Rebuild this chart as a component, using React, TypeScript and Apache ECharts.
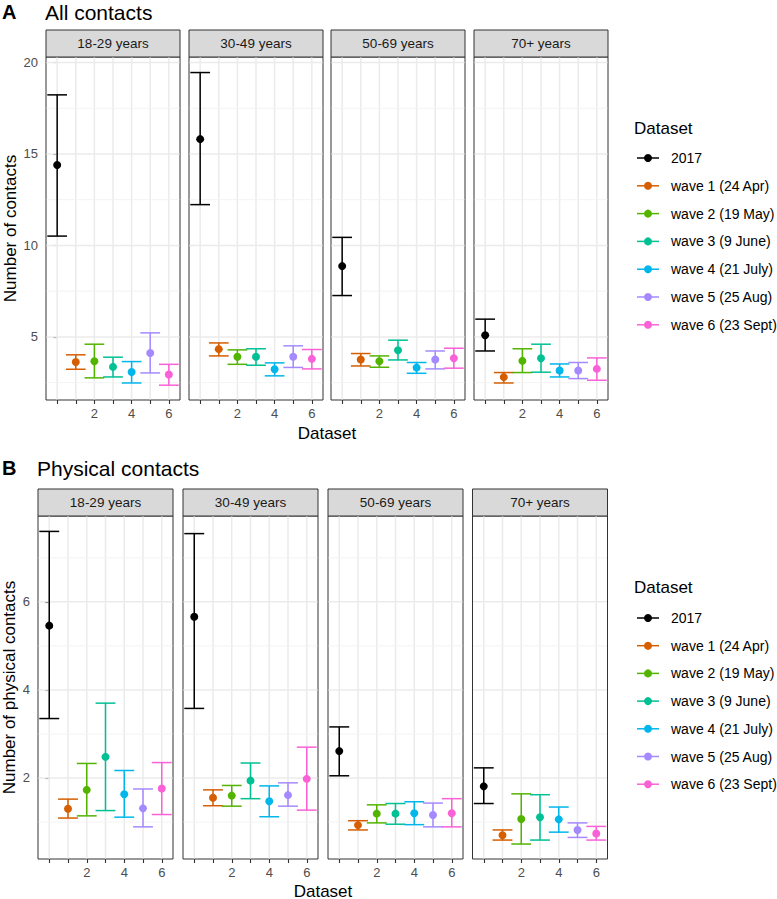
import React, { useEffect, useRef } from "react";
import * as echarts from "echarts";

const FONT = '"Liberation Sans", Arial, Helvetica, sans-serif';

const ageGroups = ["18-29 years", "30-49 years", "50-69 years", "70+ years"];
const datasets = [
  "2017",
  "wave 1 (24 Apr)",
  "wave 2 (19 May)",
  "wave 3 (9 June)",
  "wave 4 (21 July)",
  "wave 5 (25 Aug)",
  "wave 6 (23 Sept)",
];
const datasetX = [0, 1, 2, 3, 4, 5, 6];
const colors = ["#000000", "#D55E00", "#53B400", "#00C094", "#00B6EB", "#A58AFF", "#FB61D7"];

// Panel A: all contacts (rows = age groups, columns = datasets)
const allMean = [
  [14.4, 3.63, 3.67, 3.36, 3.08, 4.12, 2.94],
  [15.81, 4.33, 3.91, 3.91, 3.23, 3.91, 3.8],
  [8.87, 3.76, 3.67, 4.27, 3.32, 3.76, 3.83],
  [5.09, 2.8, 3.69, 3.83, 3.16, 3.16, 3.25],
];
const allLower = [
  [10.51, 3.23, 2.76, 2.81, 2.48, 3.03, 2.36],
  [12.23, 3.96, 3.5, 3.45, 2.87, 3.33, 3.25],
  [7.26, 3.41, 3.34, 3.74, 3.01, 3.25, 3.29],
  [4.23, 2.48, 3.05, 3.07, 2.81, 2.72, 2.63],
];
const allUpper = [
  [18.23, 4.02, 4.6, 3.89, 3.65, 5.22, 3.5],
  [19.45, 4.67, 4.29, 4.35, 3.58, 4.51, 4.31],
  [10.44, 4.09, 3.96, 4.82, 3.6, 4.23, 4.38],
  [5.97, 3.05, 4.35, 4.6, 3.52, 3.6, 3.85],
];

// Panel B: physical contacts
const physMean = [
  [5.46, 1.3, 1.73, 2.48, 1.63, 1.31, 1.76],
  [5.66, 1.55, 1.6, 1.94, 1.47, 1.61, 1.98],
  [2.61, 0.93, 1.19, 1.19, 1.2, 1.16, 1.2],
  [1.81, 0.7, 1.07, 1.11, 1.06, 0.82, 0.74],
];
const physLower = [
  [3.35, 1.09, 1.14, 1.26, 1.11, 0.89, 1.17],
  [3.58, 1.37, 1.36, 1.53, 1.12, 1.36, 1.27],
  [2.05, 0.82, 0.98, 0.95, 0.94, 0.89, 0.89],
  [1.42, 0.59, 0.5, 0.59, 0.77, 0.65, 0.59],
];
const physUpper = [
  [7.6, 1.52, 2.33, 3.7, 2.17, 1.75, 2.35],
  [7.55, 1.73, 1.83, 2.34, 1.82, 1.89, 2.7],
  [3.16, 1.03, 1.39, 1.42, 1.46, 1.43, 1.53],
  [2.23, 0.82, 1.64, 1.62, 1.34, 0.98, 0.9],
];

const xTicks = [0, 1, 2, 3, 4, 5, 6];
const xTickLabels = [2, 4, 6];
const allYTicks = [5, 10, 15, 20];
const allYMinor = [2.5, 7.5, 12.5, 17.5];
const physYTicks = [2, 4, 6];
const physYMinor = [1, 3, 5, 7];

const xRange = [-0.6, 6.6];
const allYRange = [1.55, 20.3];
const physYRange = [0.16, 7.95];
const capHalfWidth = 0.53;

// layout
const gridLeftsA = [46, 189, 331, 474];
const gridLeftsB = [38, 183, 328, 472.5];
const gridWidthA = 134;
const gridWidthB = 135;
const gridTopA = 57;
const gridTopB = 516;
const gridHeight = 343;
const stripHeight = 27;

const renderGridLines = (params: any, api: any) => {
  const kind = api.value(0);
  const v = api.value(1);
  const cs = params.coordSys;
  if (kind === 0) {
    const px = api.coord([v, 1])[0];
    return {
      type: "line",
      shape: { x1: px, y1: cs.y + 0.5, x2: px, y2: cs.y + cs.height - 0.5 },
      style: { stroke: "#EBEBEB", lineWidth: 1.5 },
    };
  }
  const py = api.coord([0, v])[1];
  return {
    type: "line",
    shape: { x1: cs.x + 0.5, y1: py, x2: cs.x + cs.width - 0.5, y2: py },
    style: { stroke: kind === 1 ? "#EBEBEB" : "#F2F2F2", lineWidth: kind === 1 ? 1.5 : 0.9 },
  };
};

const renderErrorBar = (params: any, api: any) => {
  const x = api.value(0);
  const m = api.value(1);
  const lo = api.value(2);
  const hi = api.value(3);
  const pM = api.coord([x, m]);
  const pLo = api.coord([x, lo]);
  const pHi = api.coord([x, hi]);
  const half = api.size([capHalfWidth, 0])[0];
  const color = colors[params.dataIndex];
  const ls = { stroke: color, lineWidth: 1.5 };
  return {
    type: "group",
    children: [
      { type: "line", shape: { x1: pLo[0], y1: pLo[1], x2: pHi[0], y2: pHi[1] }, style: ls },
      { type: "line", shape: { x1: pHi[0] - half, y1: pHi[1], x2: pHi[0] + half, y2: pHi[1] }, style: ls },
      { type: "line", shape: { x1: pLo[0] - half, y1: pLo[1], x2: pLo[0] + half, y2: pLo[1] }, style: ls },
      { type: "circle", shape: { cx: pM[0], cy: pM[1], r: 4 }, style: { fill: color } },
    ],
  };
};

function buildOption() {
  const grids: any[] = [];
  const xAxes: any[] = [];
  const yAxes: any[] = [];
  const series: any[] = [];
  const graphics: any[] = [];

  const sections = [
    {
      lefts: gridLeftsA, width: gridWidthA, top: gridTopA, yRange: allYRange,
      yTicks: allYTicks, yMinor: allYMinor, mean: allMean, lower: allLower, upper: allUpper,
      title: "All contacts", letter: "A", titleY: 12, yTitle: "Number of contacts", yTitleX: 10,
      xTitleX: 327, xTitleY: 433, legendTitleY: 128, legendStart: 158, legendStep: 27.8,
    },
    {
      lefts: gridLeftsB, width: gridWidthB, top: gridTopB, yRange: physYRange,
      yTicks: physYTicks, yMinor: physYMinor, mean: physMean, lower: physLower, upper: physUpper,
      title: "Physical contacts", letter: "B", titleY: 468, yTitle: "Number of physical contacts", yTitleX: 9,
      xTitleX: 323, xTitleY: 891, legendTitleY: 587, legendStart: 618, legendStep: 27.7,
    },
  ];

  sections.forEach((sec) => {
    ageGroups.forEach((age, p) => {
      const g = grids.length;
      grids.push({
        left: sec.lefts[p], top: sec.top, width: sec.width, height: gridHeight,
        show: true, borderColor: "#333333", borderWidth: 1, backgroundColor: "#FFFFFF",
      });
      xAxes.push({
        gridIndex: g, type: "value", min: xRange[0], max: xRange[1],
        axisLine: { show: false }, splitLine: { show: false },
        axisTick: { show: true, customValues: xTicks, length: 4, lineStyle: { color: "#333333", width: 1.1 } },
        axisLabel: {
          show: true, customValues: xTickLabels, color: "#4D4D4D", fontSize: 13, margin: 7, fontFamily: FONT,
          formatter: (v: number) => (xTickLabels.indexOf(v) >= 0 ? String(v) : ""),
        },
      });
      yAxes.push({
        gridIndex: g, type: "value", min: sec.yRange[0], max: sec.yRange[1],
        axisLine: { show: false }, splitLine: { show: false },
        axisTick: { show: p === 0, customValues: sec.yTicks, length: 4, lineStyle: { color: "#333333", width: 1.1 } },
        axisLabel: {
          show: p === 0, customValues: sec.yTicks, color: "#4D4D4D", fontSize: 13, margin: 8, fontFamily: FONT,
          formatter: (v: number) => (sec.yTicks.indexOf(v) >= 0 ? String(v) : ""),
        },
      });
      const gridData: number[][] = [];
      xTicks.forEach((v) => gridData.push([0, v]));
      sec.yMinor.forEach((v) => gridData.push([2, v]));
      sec.yTicks.forEach((v) => gridData.push([1, v]));
      series.push({
        type: "custom", xAxisIndex: g, yAxisIndex: g, z: 1, silent: true,
        renderItem: renderGridLines, data: gridData,
      });
      series.push({
        type: "custom", xAxisIndex: g, yAxisIndex: g, z: 3, silent: true,
        renderItem: renderErrorBar,
        encode: { x: 0, y: [1, 2, 3] },
        data: datasetX.map((x, i) => [x, sec.mean[p][i], sec.lower[p][i], sec.upper[p][i]]),
      });
      // strip
      graphics.push({
        type: "rect",
        shape: { x: sec.lefts[p], y: sec.top - stripHeight, width: sec.width, height: stripHeight },
        style: { fill: "#D9D9D9", stroke: "#333333", lineWidth: 1 },
      });
      graphics.push({
        type: "text",
        x: sec.lefts[p] + sec.width / 2, y: sec.top - stripHeight / 2,
        style: { text: age, fill: "#1A1A1A", fontSize: 13.5, fontFamily: FONT, align: "center", verticalAlign: "middle" },
      });
    });
    // titles
    graphics.push({
      type: "text", x: 2, y: sec.titleY,
      style: { text: sec.letter, fill: "#000", fontSize: 20, fontWeight: "bold", fontFamily: FONT, verticalAlign: "middle" },
    });
    graphics.push({
      type: "text", x: sec.lefts[0] - 1, y: sec.titleY,
      style: { text: sec.title, fill: "#000", fontSize: 21, fontFamily: FONT, verticalAlign: "middle" },
    });
    graphics.push({
      type: "text", x: sec.yTitleX, y: sec.top + gridHeight / 2, rotation: Math.PI / 2,
      style: { text: sec.yTitle, fill: "#000", fontSize: 17, fontFamily: FONT, align: "center", verticalAlign: "middle" },
    });
    graphics.push({
      type: "text", x: sec.xTitleX, y: sec.xTitleY,
      style: { text: "Dataset", fill: "#000", fontSize: 17, fontFamily: FONT, align: "center", verticalAlign: "middle" },
    });
    // legend
    graphics.push({
      type: "text", x: 634, y: sec.legendTitleY,
      style: { text: "Dataset", fill: "#000", fontSize: 17, fontFamily: FONT, verticalAlign: "middle" },
    });
    datasets.forEach((name, i) => {
      const y = sec.legendStart + i * sec.legendStep;
      graphics.push({
        type: "line", shape: { x1: 637, y1: y, x2: 659, y2: y },
        style: { stroke: colors[i], lineWidth: 1.5 },
      });
      graphics.push({ type: "circle", shape: { cx: 648, cy: y, r: 4 }, style: { fill: colors[i] } });
      graphics.push({
        type: "text", x: 671, y,
        style: { text: name, fill: "#000", fontSize: 14, fontFamily: FONT, verticalAlign: "middle" },
      });
    });
  });

  return {
    animation: false,
    backgroundColor: "#FFFFFF",
    textStyle: { fontFamily: FONT },
    grid: grids,
    xAxis: xAxes,
    yAxis: yAxes,
    series,
    graphic: graphics,
  };
}

export default function App() {
  const ref = useRef<HTMLDivElement>(null);
  useEffect(() => {
    if (!ref.current) return;
    const chart = echarts.init(ref.current, undefined, { renderer: "svg" });
    chart.setOption(buildOption() as any);
    return () => chart.dispose();
  }, []);
  return (
    <div
      ref={ref}
      style={{ position: "fixed", left: 0, top: 0, width: 777, height: 899, background: "#fff" }}
    />
  );
}
